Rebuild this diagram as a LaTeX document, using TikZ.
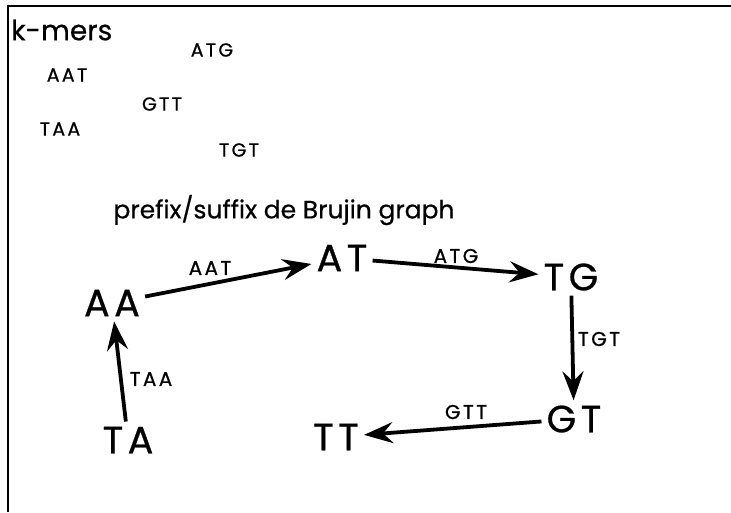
\documentclass[tikz,border=0pt]{standalone}
\usepackage{fontspec}
\setmainfont{Poppins}[FakeBold=0.5]
\newfontfamily\widefont{Poppins}[LetterSpace=12, FakeBold=0.7]
\usetikzlibrary{arrows.meta}
\tikzset{
  kmer/.style={font=\widefont\fontsize{19}{22}\selectfont, inner sep=0pt},
  vert/.style={font=\widefont\fontsize{38}{44}\selectfont, inner sep=5pt},
  elabel/.style={font=\widefont\fontsize{20}{22}\selectfont, inner sep=0pt},
  arr/.style={line width=3.8pt, -{Stealth[length=29pt, width=21pt, inset=10pt]}},
}
\begin{document}
\begin{tikzpicture}[x=1pt, y=-1pt]
  % page and frame
  \useasboundingbox (0,0) rectangle (731,512);
  \fill[white] (0,0) rectangle (731,512);
  \draw[line width=1.3pt] (8,512) -- (8,6) -- (731,6);

  % list of k-mers
  \node[anchor=west, font=\fontsize{28}{32}\selectfont, inner sep=0pt] (title) at (11,30) {k-mers};
  \node[kmer] (k1) at (212,50) {ATG};
  \node[kmer] (k2) at (67,75) {AAT};
  \node[kmer] (k3) at (162,104) {GTT};
  \node[kmer] (k4) at (60,129) {TAA};
  \node[kmer] (k5) at (239,150) {TGT};

  % graph heading
  \node[font=\fontsize{25}{30}\selectfont, inner sep=0pt] (head) at (284,210) {prefix/suffix de Brujin graph};

  % vertices
  \node[vert] (AA) at (112,303) {AA};
  \node[vert] (AT) at (342,258) {AT};
  \node[vert] (TG) at (571,277) {TG};
  \node[vert] (GT) at (574,419) {GT};
  \node[vert] (TT) at (336,437) {TT};
  \node[vert] (TA) at (128,440) {TA};

  % edges
  \draw[arr] (AA) -- (AT);
  \draw[arr] (AT) -- (TG);
  \draw[arr] (TG) -- (GT);
  \draw[arr] (GT) -- (TT);
  \draw[arr] (TA) -- (AA);

  % edge labels
  \node[elabel] (lAAT) at (210,268) {AAT};
  \node[elabel] (lATG) at (456,256) {ATG};
  \node[elabel] (lTGT) at (599,339) {TGT};
  \node[elabel] (lTAA) at (151,379) {TAA};
  \node[elabel] (lGTT) at (466,412) {GTT};
\end{tikzpicture}
\end{document}
